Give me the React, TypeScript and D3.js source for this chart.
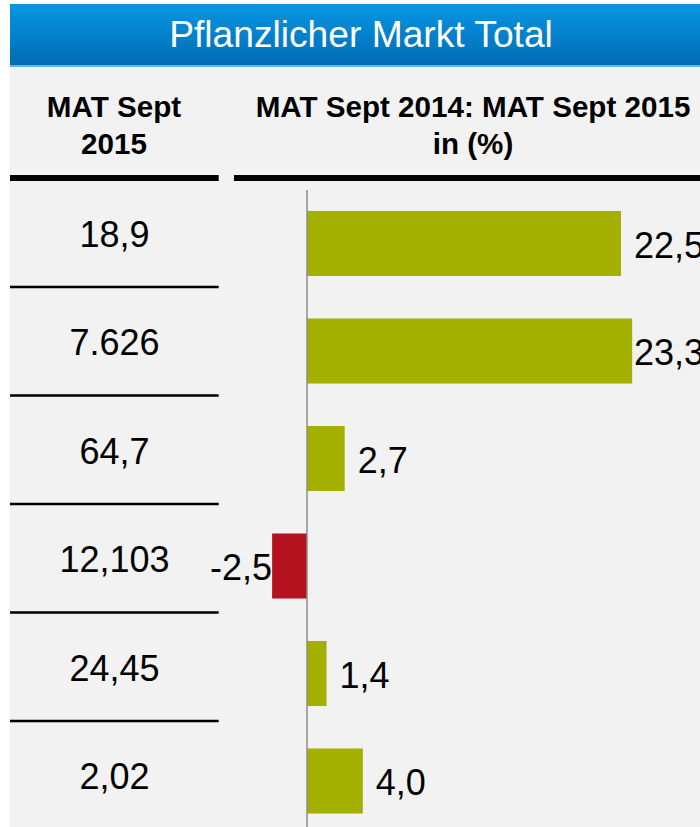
import React from "react";
import * as d3 from "d3";

const title = "Pflanzlicher Markt Total";
const leftHeader = ["MAT Sept", "2015"];
const rightHeader = ["MAT Sept 2014: MAT Sept 2015", "in (%)"];
const matValues = ["18,9", "7.626", "64,7", "12,103", "24,45", "2,02"];
const changeValues = [22.5, 23.3, 2.7, -2.5, 1.4, 4.0];
const changeLabels = ["22,5", "23,3", "2,7", "-2,5", "1,4", "4,0"];

const W = 700;
const H = 827;
const FONT = "'Liberation Sans', Arial, Helvetica, sans-serif";
const GREEN = "#a3b000";
const RED = "#b51220";

export default function App() {
  const idx = matValues.map((_, i) => i);
  const y = d3.scaleBand<number>().domain(idx).range([189.75, 834.75]).paddingInner(0.395).paddingOuter(0.1975);
  const yLeft = d3.scaleBand<number>().domain(idx).range([178.5, 178.5 + 108.5 * 6]);
  const x = d3.scaleLinear().domain([0, 22.5]).range([307, 621]);
  const labelMax = x(22.5) + 13;

  return (
    <svg width={W} height={H} style={{ position: "absolute", left: 0, top: 0 }} fontFamily={FONT}>
      <defs>
        <linearGradient id="banner" x1="0" y1="0" x2="0" y2="1">
          <stop offset="0" stopColor="#0896e4" />
          <stop offset="1" stopColor="#006cb3" />
        </linearGradient>
      </defs>
      <rect x={0} y={0} width={W} height={H} fill="#ffffff" />
      <rect x={10} y={66} width={W - 10} height={H - 66} fill="#f2f2f2" />
      <rect x={10} y={4} width={W - 10} height={61.5} fill="url(#banner)" />
      <rect x={10} y={65.5} width={W - 10} height={1.5} fill="#5cb4e6" />
      <text x={361} y={47} textAnchor="middle" fill="#ffffff" fontSize={37.2}>{title}</text>

      {leftHeader.map((t, i) => (
        <text key={"lh" + i} x={114} y={116.7 + i * 37.3} textAnchor="middle" fontWeight="bold" fontSize={29.6} fill="#000">{t}</text>
      ))}
      {rightHeader.map((t, i) => (
        <text key={"rh" + i} x={473} y={116.7 + i * 37.3} textAnchor="middle" fontWeight="bold" fontSize={29.6} fill="#000">{t}</text>
      ))}
      <rect x={10} y={175} width={208.7} height={6} fill="#000" />
      <rect x={234} y={175} width={W - 234} height={6} fill="#000" />

      {idx.slice(1).map((i) => (
        <rect key={"sep" + i} x={10} y={(yLeft(i) as number) - 1.25} width={208.7} height={2.5} fill="#000" />
      ))}
      {matValues.map((v, i) => (
        <text key={"mv" + i} x={114.5} y={(yLeft(i) as number) + yLeft.bandwidth() / 2 + 14} textAnchor="middle" fontSize={36} fill="#000">{v}</text>
      ))}

      {changeValues.map((v, i) => {
        const x0 = x(Math.min(0, v));
        const x1 = x(Math.max(0, v));
        return (
          <rect key={"bar" + i} x={x0} y={y(i)} width={x1 - x0} height={y.bandwidth()} fill={v < 0 ? RED : GREEN} />
        );
      })}
      <line x1={x(0)} x2={x(0)} y1={190} y2={H} stroke="#8c8c8c" strokeWidth={1.5} />
      {changeValues.map((v, i) => {
        const cy = (y(i) as number) + y.bandwidth() / 2 + 14;
        if (v < 0) {
          return <text key={"lb" + i} x={x(v)} y={cy} textAnchor="end" fontSize={36} fill="#000">{changeLabels[i]}</text>;
        }
        return <text key={"lb" + i} x={Math.min(x(v) + 13, labelMax)} y={cy} fontSize={36} fill="#000">{changeLabels[i]}</text>;
      })}
    </svg>
  );
}
